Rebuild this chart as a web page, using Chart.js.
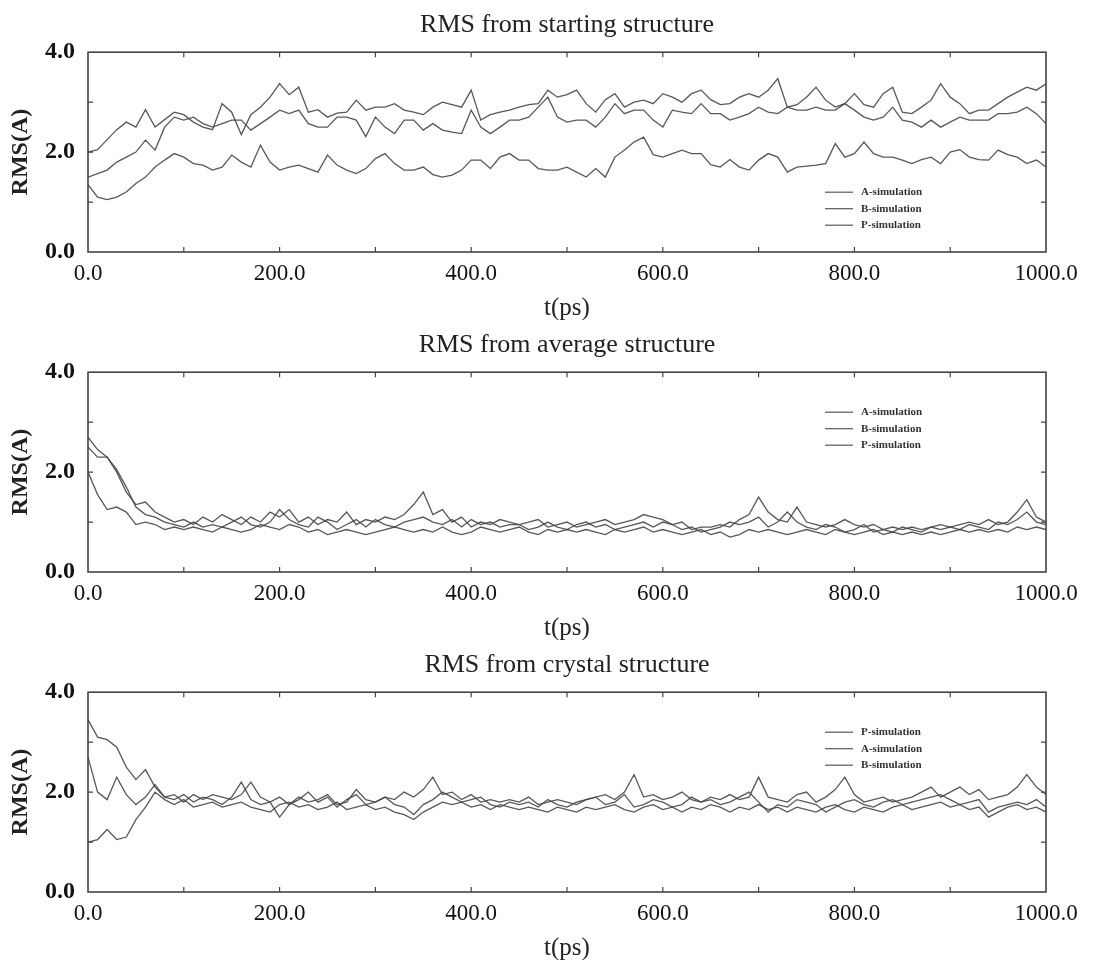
<!DOCTYPE html>
<html lang="en">
<head>
  <meta charset="UTF-8">
  <title>RMS from structures</title>
  <script src="https://cdn.jsdelivr.net/npm/chart.js"></script>
  <style>
    body { margin: 0; background: #fff; }
    .panel { position: absolute; left: 0; width: 1119px; height: 320px; }
  </style>
</head>
<body>
  <div class="panel" style="top:0px"><canvas id="startChart"></canvas></div>
  <div class="panel" style="top:320px"><canvas id="avgChart"></canvas></div>
  <div class="panel" style="top:640px"><canvas id="crysChart"></canvas></div>

  <script>
    // time axis (ps), sampled every 10 ps
    const times = Array.from({ length: 101 }, (_, i) => i * 10);
    const xLabelTicks = [0, 200, 400, 600, 800, 1000];
    const xMinorTicks = [100, 200, 300, 400, 500, 600, 700, 800, 900];
    const yMinorTicks = [1, 2, 3];

    // RMS from starting structure
    const startA = [2.0, 2.05, 2.25, 2.45, 2.6, 2.5, 2.85, 2.5, 2.65, 2.8,
      2.75, 2.6, 2.5, 2.45, 2.97, 2.8, 2.35, 2.75, 2.9, 3.1,
      3.37, 3.15, 3.3, 2.8, 2.85, 2.7, 2.78, 2.8, 3.04, 2.84,
      2.9, 2.9, 2.97, 2.84, 2.8, 2.75, 2.9, 3.0, 2.95, 2.9,
      3.24, 2.64, 2.75, 2.8, 2.84, 2.9, 2.95, 2.97, 3.24, 3.1,
      3.15, 3.24, 2.97, 2.8, 3.05, 3.17, 2.9, 3.0, 3.04, 2.97,
      3.17, 3.1, 3.0, 3.17, 3.24, 3.05, 2.95, 2.97, 3.1, 3.17,
      3.1, 3.24, 3.47, 2.9, 2.95, 3.1, 3.3, 3.04, 2.9, 2.97,
      3.17, 2.95, 2.9, 3.17, 3.3, 2.8, 2.77, 2.9, 3.04, 3.37,
      3.1, 2.97, 2.77, 2.84, 2.84, 2.97, 3.1, 3.2, 3.3, 3.24,
      3.37];
    const startB = [1.5, 1.57, 1.64, 1.8, 1.9, 2.0, 2.24, 2.04, 2.5, 2.7,
      2.64, 2.7, 2.57, 2.5, 2.57, 2.64, 2.64, 2.44, 2.57, 2.7,
      2.84, 2.77, 2.84, 2.57, 2.5, 2.5, 2.7, 2.7, 2.64, 2.31,
      2.7, 2.5, 2.37, 2.64, 2.64, 2.44, 2.57, 2.44, 2.4, 2.37,
      2.84, 2.5, 2.37, 2.5, 2.64, 2.64, 2.7, 2.9, 3.1, 2.7,
      2.6, 2.64, 2.64, 2.5, 2.7, 2.97, 2.77, 2.84, 2.84, 2.64,
      2.5, 2.84, 2.8, 2.77, 2.97, 2.77, 2.77, 2.64, 2.7, 2.77,
      2.9, 2.8, 2.77, 2.9, 2.84, 2.84, 2.9, 2.84, 2.84, 2.97,
      2.84, 2.7, 2.64, 2.7, 2.9, 2.64, 2.6, 2.5, 2.64, 2.5,
      2.6, 2.7, 2.64, 2.64, 2.64, 2.77, 2.77, 2.8, 2.9, 2.77,
      2.57];
    const startP = [1.35, 1.1, 1.05, 1.1, 1.2, 1.37, 1.5, 1.7, 1.84, 1.97,
      1.9, 1.77, 1.74, 1.64, 1.7, 1.94, 1.8, 1.7, 2.14, 1.8,
      1.64, 1.7, 1.74, 1.67, 1.6, 1.94, 1.74, 1.64, 1.57, 1.67,
      1.87, 1.97, 1.77, 1.64, 1.64, 1.7, 1.55, 1.5, 1.54, 1.64,
      1.84, 1.84, 1.67, 1.9, 1.97, 1.84, 1.84, 1.67, 1.64, 1.64,
      1.7, 1.6, 1.5, 1.67, 1.5, 1.9, 2.04, 2.2, 2.3, 1.95,
      1.9, 1.97, 2.04, 1.97, 1.97, 1.75, 1.7, 1.85, 1.7, 1.64,
      1.84, 1.97, 1.9, 1.6, 1.7, 1.72, 1.74, 1.77, 2.17, 1.9,
      1.97, 2.2, 1.97, 1.9, 1.9, 1.84, 1.77, 1.85, 1.9, 1.77,
      2.0, 2.05, 1.9, 1.85, 1.84, 2.04, 1.95, 1.9, 1.77, 1.84,
      1.7];

    // RMS from average structure
    const avgA = [2.7, 2.45, 2.3, 2.0, 1.6, 1.35, 1.4, 1.2, 1.1, 1.0,
      1.05, 0.95, 1.1, 1.0, 1.15, 1.05, 0.95, 1.1, 1.0, 1.2,
      1.1, 1.25, 1.0, 1.1, 0.95, 1.05, 1.0, 1.2, 0.95, 1.05,
      1.0, 1.1, 1.05, 1.15, 1.35, 1.6, 1.15, 1.25, 1.0, 1.1,
      0.9, 1.0, 0.95, 1.05, 1.0, 0.95, 1.0, 1.05, 0.9, 0.95,
      1.0, 0.9, 0.95, 1.0, 1.05, 0.95, 1.0, 1.05, 1.15, 1.1,
      1.05, 0.95, 1.0, 0.85, 0.9, 0.9, 0.95, 0.9, 1.05, 1.15,
      1.5, 1.2, 1.05, 1.0, 1.3, 1.0, 0.95, 0.9, 0.95, 1.05,
      0.95, 0.9, 0.95, 0.85, 0.9, 0.85, 0.9, 0.85, 0.9, 0.95,
      0.9, 0.95, 1.0, 0.95, 1.05, 0.95, 1.0, 1.2, 1.45, 1.1,
      1.0];
    const avgB = [2.5, 2.3, 2.3, 2.05, 1.7, 1.3, 1.15, 1.1, 1.0, 0.95,
      0.9, 1.0, 0.9, 0.95, 0.9, 1.0, 1.1, 0.95, 0.9, 1.0,
      1.25, 1.05, 0.95, 0.9, 1.1, 1.0, 0.85, 0.95, 1.05, 0.9,
      1.05, 0.95, 0.9, 1.0, 1.05, 1.1, 1.0, 0.95, 1.05, 0.9,
      1.05, 0.95, 1.0, 0.9, 0.95, 0.95, 0.85, 0.9, 1.0, 0.9,
      0.85, 0.95, 1.0, 0.9, 0.95, 0.85, 0.9, 0.95, 1.0, 0.9,
      1.0, 0.95, 0.85, 0.9, 0.8, 0.85, 0.9, 1.0, 0.95, 1.0,
      1.1, 0.9, 1.0, 1.2, 1.0, 0.9, 0.85, 0.95, 0.9, 0.8,
      0.85, 0.95, 0.8, 0.85, 0.8, 0.9, 0.85, 0.8, 0.9, 0.85,
      0.9, 0.85, 0.95, 0.9, 0.85, 1.0, 0.95, 1.05, 1.2, 1.0,
      0.95];
    const avgP = [2.0, 1.55, 1.25, 1.3, 1.2, 0.95, 1.0, 0.95, 0.85, 0.9,
      0.85, 0.9, 0.85, 0.8, 0.9, 0.85, 0.8, 0.85, 0.95, 0.9,
      0.85, 0.95, 0.9, 0.8, 0.85, 0.75, 0.8, 0.85, 0.8, 0.75,
      0.8, 0.85, 0.9, 0.85, 0.8, 0.85, 0.8, 0.9, 0.8, 0.75,
      0.8, 0.9, 0.85, 0.8, 0.85, 0.9, 0.8, 0.75, 0.85, 0.8,
      0.85, 0.8, 0.85, 0.8, 0.75, 0.85, 0.8, 0.85, 0.9, 0.8,
      0.85, 0.8, 0.75, 0.8, 0.85, 0.75, 0.8, 0.7, 0.75, 0.85,
      0.8, 0.85, 0.8, 0.75, 0.8, 0.85, 0.8, 0.75, 0.85, 0.8,
      0.75, 0.8, 0.85, 0.75, 0.8, 0.75, 0.8, 0.75, 0.8, 0.75,
      0.8, 0.85, 0.8, 0.85, 0.8, 0.85, 0.8, 0.9, 0.85, 0.9,
      0.85];

    // RMS from crystal structure
    const crysP = [3.45, 3.1, 3.05, 2.9, 2.5, 2.25, 2.45, 2.1, 1.9, 1.85,
      1.95, 1.8, 1.9, 1.85, 1.75, 1.9, 2.2, 1.85, 1.75, 1.8,
      1.5, 1.75, 1.85, 2.0, 1.8, 1.9, 1.7, 1.85, 1.95, 1.75,
      1.8, 1.9, 1.75, 1.7, 1.55, 1.75, 1.85, 2.0, 1.9, 1.8,
      1.85, 1.9, 1.75, 1.7, 1.8, 1.75, 1.8, 1.7, 1.85, 1.75,
      1.7, 1.8, 1.85, 1.9, 1.75, 1.8, 1.95, 1.7, 1.75, 1.85,
      1.8, 1.7, 1.75, 1.9, 1.8, 1.85, 1.75, 1.8, 1.9, 2.0,
      1.8, 1.6, 1.75, 1.7, 1.85, 1.8, 1.75, 1.6, 1.7, 1.8,
      1.85, 1.75, 1.7, 1.8, 1.85, 1.75, 1.8, 1.85, 1.9, 1.95,
      1.85, 1.75, 1.8, 1.85, 1.6, 1.7, 1.75, 1.8, 1.75, 1.85,
      1.7];
    const crysA = [2.7, 2.0, 1.85, 2.3, 1.95, 1.75, 1.9, 2.15, 1.9, 1.95,
      1.8, 1.95, 1.85, 1.95, 1.9, 1.85, 1.95, 2.2, 1.9, 1.8,
      1.9, 1.75, 1.9, 1.8, 1.85, 1.95, 1.75, 1.8, 2.05, 1.85,
      1.8, 1.9, 1.85, 2.0, 1.9, 2.05, 2.3, 1.95, 2.0, 1.85,
      1.95, 1.8, 1.85, 1.8, 1.85, 1.8, 1.9, 1.75, 1.8, 1.85,
      1.8, 1.75, 1.85, 1.9, 1.95, 1.85, 2.0, 2.35, 1.9, 1.95,
      1.85, 1.9, 2.0, 1.85, 1.8, 1.9, 1.85, 1.95, 1.85, 1.9,
      2.3, 1.9, 1.85, 1.8, 1.95, 2.0, 1.8, 1.9, 2.05, 2.3,
      1.95, 1.8, 1.85, 1.9, 1.8, 1.85, 1.9, 2.0, 2.1, 1.9,
      2.0, 2.1, 1.95, 2.05, 1.85, 1.9, 1.95, 2.1, 2.35, 2.1,
      1.95];
    const crysB = [1.0, 1.05, 1.25, 1.05, 1.1, 1.45, 1.7, 2.0, 1.85, 1.75,
      1.85, 1.7, 1.75, 1.8, 1.7, 1.75, 1.8, 1.7, 1.65, 1.6,
      1.75, 1.8, 1.7, 1.75, 1.65, 1.7, 1.8, 1.65, 1.7, 1.75,
      1.65, 1.7, 1.6, 1.55, 1.45, 1.6, 1.7, 1.8, 1.75, 1.8,
      1.7, 1.75, 1.65, 1.75, 1.7, 1.65, 1.7, 1.65, 1.6, 1.7,
      1.65, 1.6, 1.7, 1.65, 1.7, 1.75, 1.65, 1.6, 1.7, 1.75,
      1.65, 1.7, 1.6, 1.7, 1.65, 1.75, 1.7, 1.6, 1.7, 1.65,
      1.75, 1.65, 1.7, 1.6, 1.7, 1.65, 1.6, 1.7, 1.75, 1.65,
      1.6, 1.7, 1.65, 1.6, 1.7, 1.75, 1.65, 1.7, 1.75, 1.8,
      1.7, 1.75, 1.65, 1.7, 1.5, 1.6, 1.7, 1.75, 1.65, 1.7,
      1.6];

    const serif = '"Liberation Serif", "Times New Roman", serif';
    const lineColor = 'rgba(70, 70, 70, 0.9)';

    // frame, inward ticks and the small legend inside the plot
    const frameTicks = {
      id: 'frameTicks',
      afterDatasetsDraw(chart, args, opts) {
        const { ctx, chartArea: a, scales: { x, y } } = chart;
        ctx.save();
        ctx.strokeStyle = '#444';
        ctx.lineWidth = 1.6;
        ctx.strokeRect(a.left, a.top, a.right - a.left, a.bottom - a.top);
        ctx.lineWidth = 1.2;
        ctx.beginPath();
        xMinorTicks.forEach(v => {
          const px = x.getPixelForValue(v);
          ctx.moveTo(px, a.bottom); ctx.lineTo(px, a.bottom - 5);
          ctx.moveTo(px, a.top); ctx.lineTo(px, a.top + 5);
        });
        yMinorTicks.forEach(v => {
          const py = y.getPixelForValue(v);
          ctx.moveTo(a.left, py); ctx.lineTo(a.left + 5, py);
          ctx.moveTo(a.right, py); ctx.lineTo(a.right - 5, py);
        });
        ctx.stroke();

        ctx.font = 'bold 11px ' + serif;
        ctx.textBaseline = 'middle';
        ctx.fillStyle = '#333';
        chart.data.datasets.forEach((ds, i) => {
          const ly = a.top + opts.legendTop + i * 16.5;
          ctx.strokeStyle = ds.borderColor;
          ctx.lineWidth = 1.2;
          ctx.beginPath();
          ctx.moveTo(a.right - 221, ly);
          ctx.lineTo(a.right - 193, ly);
          ctx.stroke();
          ctx.fillText(ds.label, a.right - 185, ly);
        });
        ctx.restore();
      }
    };

    function makeChart(id, title, series, legendTop) {
      const ctx = document.getElementById(id).getContext('2d');
      return new Chart(ctx, {
        type: 'line',
        data: {
          labels: times,
          datasets: series.map(s => ({
            label: s.label,
            data: s.data,
            borderColor: lineColor,
            borderWidth: 1.3,
            pointRadius: 0,
            tension: 0,
            fill: false
          }))
        },
        options: {
          responsive: true,
          maintainAspectRatio: false,
          animation: false,
          layout: { padding: { left: 0, right: 73, top: 0, bottom: 0 } },
          plugins: {
            legend: { display: false },
            tooltip: { enabled: false },
            title: {
              display: true,
              text: title,
              fullSize: false,
              color: '#222',
              font: { family: serif, size: 26, weight: 'normal' },
              padding: { top: 10, bottom: 11 }
            },
            frameTicks: { legendTop: legendTop }
          },
          scales: {
            x: {
              type: 'linear',
              min: 0,
              max: 1000,
              grid: { display: false, drawTicks: false },
              border: { display: false },
              afterBuildTicks: s => { s.ticks = xLabelTicks.map(v => ({ value: v })); },
              afterFit: s => { s.height = 68; },
              ticks: {
                padding: 8,
                color: '#111',
                maxRotation: 0,
                font: { family: serif, size: 23 },
                callback: v => v.toFixed(1)
              },
              title: {
                display: true,
                text: 't(ps)',
                color: '#222',
                font: { family: serif, size: 25 },
                padding: { top: 0, bottom: -3 }
              }
            },
            y: {
              min: 0,
              max: 4,
              grid: { display: false, drawTicks: false },
              border: { display: false },
              afterFit: s => { s.width = 88; },
              ticks: {
                stepSize: 2,
                padding: 13,
                color: '#111',
                font: { family: serif, size: 24, weight: 'bold' },
                callback: v => v.toFixed(1)
              },
              title: {
                display: true,
                text: 'RMS(A)',
                color: '#222',
                font: { family: serif, size: 24, weight: 'bold' },
                padding: { top: 6, bottom: 0 }
              }
            }
          }
        },
        plugins: [frameTicks]
      });
    }

    makeChart('startChart', 'RMS from starting structure', [
      { label: 'A-simulation', data: startA },
      { label: 'B-simulation', data: startB },
      { label: 'P-simulation', data: startP }
    ], 140);

    makeChart('avgChart', 'RMS from average structure', [
      { label: 'A-simulation', data: avgA },
      { label: 'B-simulation', data: avgB },
      { label: 'P-simulation', data: avgP }
    ], 40);

    makeChart('crysChart', 'RMS from crystal structure', [
      { label: 'P-simulation', data: crysP },
      { label: 'A-simulation', data: crysA },
      { label: 'B-simulation', data: crysB }
    ], 40);
  </script>
</body>
</html>
